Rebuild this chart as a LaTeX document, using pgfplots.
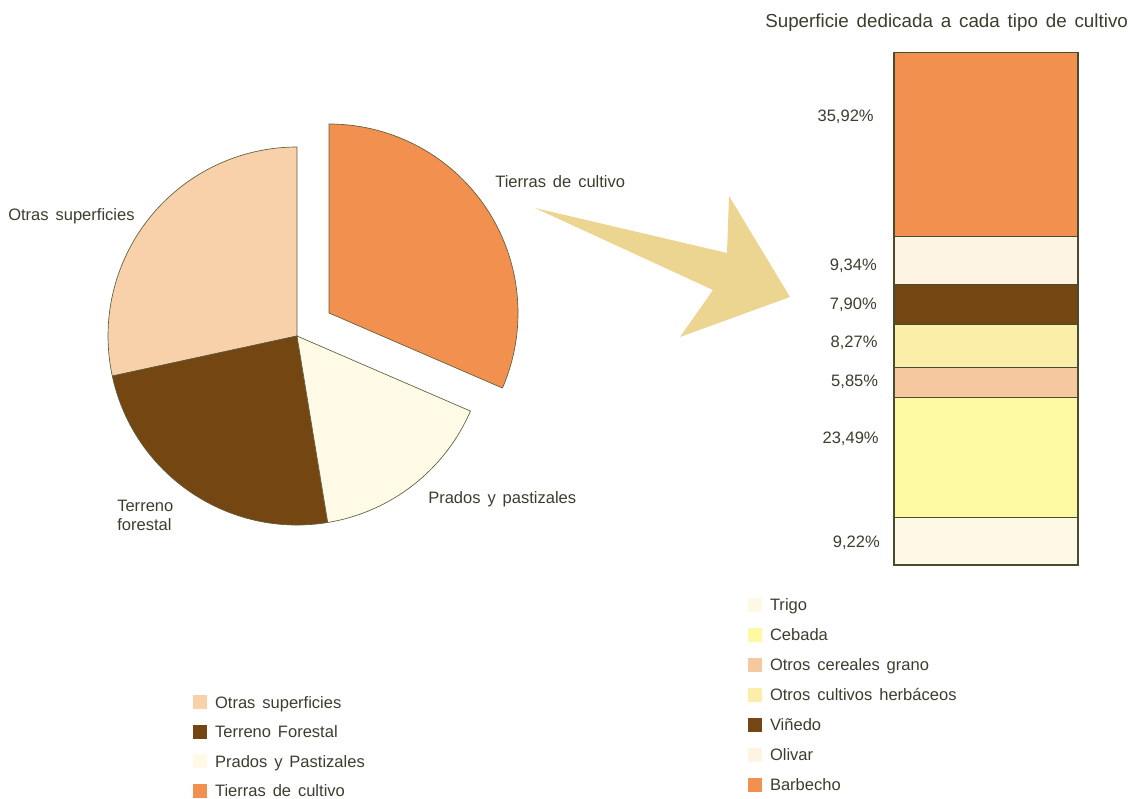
\documentclass[border=0pt]{standalone}
\usepackage{pgfplots}
\pgfplotsset{compat=1.18}
\usepackage{fontspec}
\setmainfont{Liberation Sans}[WordSpace=1.5]
\definecolor{txt}{HTML}{3B3E2E}
\definecolor{edgep}{HTML}{5E5E3E}
\definecolor{edgeb}{HTML}{4A4C2E}
\definecolor{arrowc}{HTML}{ECD491}
\definecolor{otras}{HTML}{F8D0AA}
\definecolor{forestal}{HTML}{744612}
\definecolor{prados}{HTML}{FEFAE6}
\definecolor{tierras}{HTML}{F2914F}
\definecolor{trigo}{HTML}{FEF9E6}
\definecolor{cebada}{HTML}{FDF9A2}
\definecolor{ocereales}{HTML}{F6C8A0}
\definecolor{oherb}{HTML}{FAEEA8}
\definecolor{vinedo}{HTML}{744612}
\definecolor{olivar}{HTML}{FDF4E4}
\definecolor{barbecho}{HTML}{F2904F}
\newcommand\lbl{\fontsize{12.4}{14}\selectfont}
\pgfplotsset{
  sqlegend/.style={legend image code/.code={\path[##1,draw=none] (0pt,-5.25pt) rectangle (10.5pt,5.25pt);}},
  mylegend/.style={legend cell align=left, legend style={draw=none, fill=none, inner sep=0pt, outer sep=0pt, anchor=north west, row sep=12pt, column sep=6pt, font=\lbl, text=txt, nodes={inner sep=0pt, text height=9.5pt, text depth=0.6pt}}},
}
\tikzset{pct/.style={anchor=east, text=txt, font=\lbl, inner sep=0pt}}
\begin{document}
\begin{tikzpicture}[x=0.75pt,y=-0.75pt]
\useasboundingbox (0,0) rectangle (1131,799);
\coordinate (Pie) at (297,336);
\coordinate (Exp) at (329,313);
\coordinate (Bar) at (894,565);
\fill[arrowc] (535,208) -- (727,253) -- (729,196) -- (790,297) -- (680,337) -- (713,290) -- cycle;

% ---------- pie (percent shares) ----------
\begin{axis}[at={(Pie)}, anchor=center, scale only axis, hide axis,
  x=141.75pt, y=141.75pt, xmin=-1.05, xmax=1.05, ymin=-1.05, ymax=1.05,
  clip=false, data cs=polar, sqlegend, mylegend,
  legend style={at={(axis cs:-0.550,-1.900)}, row sep=11.7pt}]
% Otras superficies 28.4 %, Terreno forestal 24.2 %, Prados 15.9 %, Tierras 31.5 %
\addplot[fill=otras, draw=edgep, line width=0.5pt] coordinates {(0,0) (90,1)}
  arc[start angle=90, end angle={90+3.6*28.4}, radius=141.75pt] -- cycle;
\addlegendentry{Otras superficies}
\addplot[fill=forestal, draw=edgep, line width=0.5pt] coordinates {(0,0) (192.24,1)}
  arc[start angle=192.24, end angle={192.24+3.6*24.2}, radius=141.75pt] -- cycle;
\addlegendentry{Terreno Forestal}
\addplot[fill=prados, draw=edgep, line width=0.5pt] coordinates {(0,0) (279.36,1)}
  arc[start angle=279.36, end angle={279.36+3.6*15.9}, radius=141.75pt] -- cycle;
\addlegendentry{Prados y Pastizales}
\addlegendimage{fill=tierras, draw=none}
\addlegendentry{Tierras de cultivo}
\end{axis}
% exploded slice
\begin{axis}[at={(Exp)}, anchor=center, scale only axis, hide axis,
  x=141.75pt, y=141.75pt, xmin=-1.05, xmax=1.05, ymin=-1.05, ymax=1.05,
  clip=false, data cs=polar]
\addplot[fill=tierras, draw=edgep, line width=0.5pt] coordinates {(0,0) (336.6,1)}
  arc[start angle=336.6, end angle={336.6+3.6*31.5}, radius=141.75pt] -- cycle;
\end{axis}

\begin{scope}[every node/.style={text=txt, font=\lbl, inner sep=0pt}]
\node[anchor=base west] at (8,220) {Otras superficies};
\node[anchor=base west] at (495,187) {Tierras de cultivo};
\node[anchor=base west] at (428,503) {Prados y pastizales};
\node[anchor=base west] at (117,511) {Terreno};
\node[anchor=base west] at (117,530) {forestal};
\node[anchor=base west, font=\fontsize{14.1}{16}\selectfont] at (765,28) {Superficie dedicada a cada tipo de cultivo};
\end{scope}

% ---------- stacked bar ----------
\begin{axis}[at={(Bar)}, anchor=south west, scale only axis, hide axis,
  width=138pt, height=384.75pt, xmin=-0.5, xmax=0.5, ymin=0, ymax=100,
  ybar stacked, bar width=138pt, clip=false, sqlegend, mylegend,
  legend style={at={(axis cs:-1.2935,-6.34)}}]
\addplot[fill=trigo, draw=edgeb, line width=0.8pt] coordinates {(0,9.22)};
\addlegendentry{Trigo}
\addplot[fill=cebada, draw=edgeb, line width=0.8pt] coordinates {(0,23.49)};
\addlegendentry{Cebada}
\addplot[fill=ocereales, draw=edgeb, line width=0.8pt] coordinates {(0,5.85)};
\addlegendentry{Otros cereales grano}
\addplot[fill=oherb, draw=edgeb, line width=0.8pt] coordinates {(0,8.27)};
\addlegendentry{Otros cultivos herbáceos}
\addplot[fill=vinedo, draw=edgeb, line width=0.8pt] coordinates {(0,7.90)};
\addlegendentry{Viñedo}
\addplot[fill=olivar, draw=edgeb, line width=0.8pt] coordinates {(0,9.34)};
\addlegendentry{Olivar}
\addplot[fill=barbecho, draw=edgeb, line width=0.8pt] coordinates {(0,35.92)};
\addlegendentry{Barbecho}
\node[pct] at (axis cs:-0.609,87.3) {35,92\%};
\node[pct] at (axis cs:-0.592,58.3) {9,34\%};
\node[pct] at (axis cs:-0.592,50.7) {7,90\%};
\node[pct] at (axis cs:-0.588,43.3) {8,27\%};
\node[pct] at (axis cs:-0.585,35.7) {5,85\%};
\node[pct] at (axis cs:-0.582,24.6) {23,49\%};
\node[pct] at (axis cs:-0.576,4.3) {9,22\%};
\end{axis}
\end{tikzpicture}
\end{document}
